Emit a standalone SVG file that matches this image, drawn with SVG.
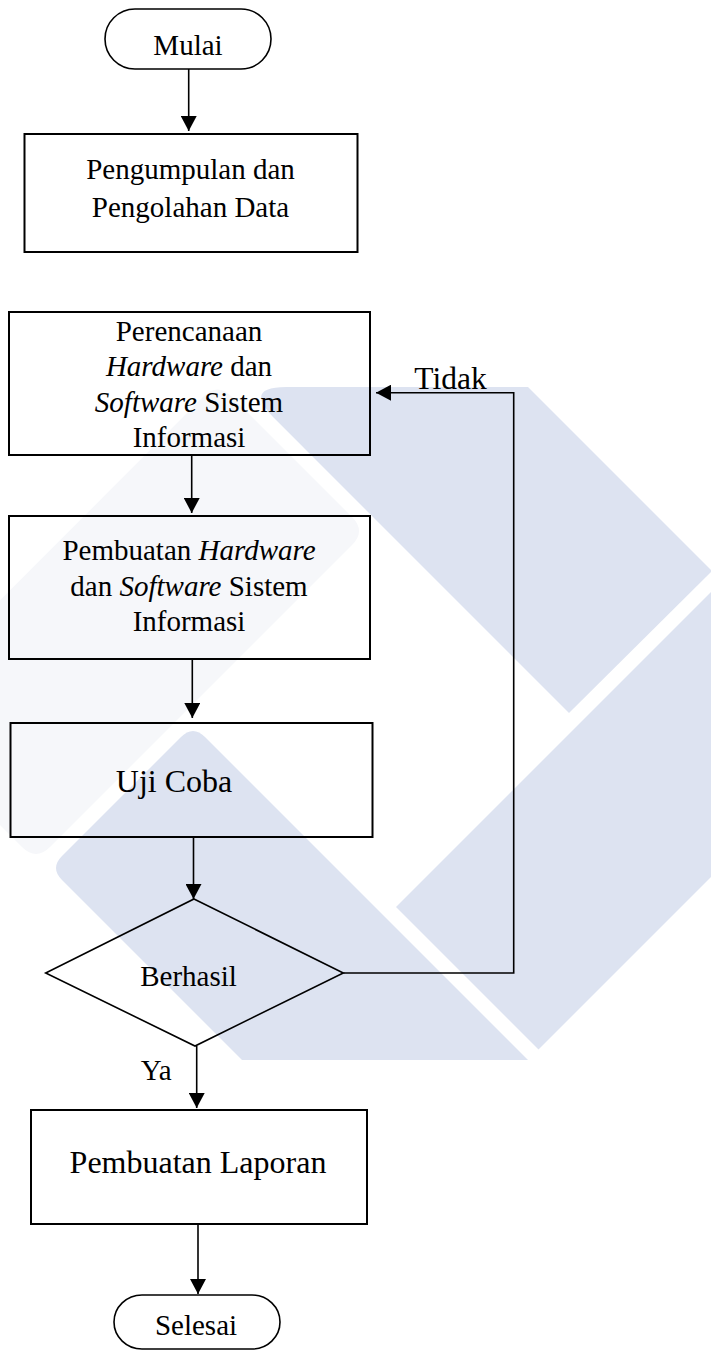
<svg xmlns="http://www.w3.org/2000/svg" width="711" height="1350" viewBox="0 0 711 1350">
<style>
.wm{fill:#dde3f1}
.wf{fill:#f6f7fa}
.box{fill:none;stroke:#000;stroke-width:2}
.term{fill:none;stroke:#000;stroke-width:1.6}
.dia{fill:none;stroke:#000;stroke-width:1.6}
.edge{fill:none;stroke:#000;stroke-width:1.6}
text{font-family:"Liberation Serif","Times New Roman",serif;font-size:29px;fill:#000;text-anchor:middle}
.big{font-size:32px}
.lbl{font-size:31.5px}
.it{font-style:italic}
</style>
<defs>
<marker id="ah" markerUnits="userSpaceOnUse" markerWidth="16" markerHeight="16" refX="15" refY="8" orient="auto">
<path d="M0,0 L15,8 L0,16 Z" fill="#000"/>
</marker>
</defs>
<rect width="711" height="1350" fill="#fff"/>
<g id="watermark">
<path class="wf" d="M231.5,396.5 L352,517 Q366,531 352,545 L50,847 Q36,861 22,847 L-112,712.5 L203.5,396.5 Q217.5,382.5 231.5,396.5 Z"/>
<path class="wm" d="M286.5,387 L528,387 L712,571 L569,713 L273.8,417.8 Q243,387 286.5,387 Z"/>
<path class="wm" d="M396,907 L538.5,1049.5 L820,768 L820,483 Z"/>
<path class="wm" d="M205,737 L528,1060 L242,1060 L62,880 Q50,868 62,856 L181,737 Q193,725 205,737 Z"/>
</g>
<g id="connectors">
<path class="edge" d="M188.7,69 V131" marker-end="url(#ah)"/>
<path class="edge" d="M191.7,455 V513" marker-end="url(#ah)"/>
<path class="edge" d="M192.3,659 V718" marker-end="url(#ah)"/>
<path class="edge" d="M193.5,837 V899" marker-end="url(#ah)"/>
<path class="edge" d="M343.3,973 H513.7 V392.7 H376" marker-end="url(#ah)"/>
<path class="edge" d="M196.7,1046 V1108" marker-end="url(#ah)"/>
<path class="edge" d="M198,1224 V1294" marker-end="url(#ah)"/>
<text class="lbl" x="450.5" y="389">Tidak</text>
<text x="156.3" y="1080">Ya</text>
</g>
<g id="start">
<rect class="term" x="105" y="9" width="166" height="60" rx="30" ry="30"/>
<text x="188" y="55">Mulai</text>
</g>
<g id="data">
<rect class="box" x="24.5" y="134" width="333" height="118"/>
<text x="190.5" y="179">Pengumpulan dan</text>
<text x="190.5" y="217">Pengolahan Data</text>
</g>
<g id="plan">
<rect class="box" x="9" y="312" width="361" height="143"/>
<text x="189" y="340.5">Perencanaan</text>
<text x="189" y="376"><tspan class="it">Hardware</tspan> dan</text>
<text x="189" y="411.5"><tspan class="it">Software</tspan> Sistem</text>
<text x="189" y="447">Informasi</text>
</g>
<g id="build">
<rect class="box" x="9" y="516" width="361" height="143"/>
<text x="189" y="560">Pembuatan <tspan class="it">Hardware</tspan></text>
<text x="189" y="596">dan <tspan class="it">Software</tspan> Sistem</text>
<text x="189" y="631">Informasi</text>
</g>
<g id="test">
<rect class="box" x="10.5" y="723" width="362" height="114"/>
<text class="big" x="174" y="792">Uji Coba</text>
</g>
<g id="decision">
<polygon class="dia" points="194,899 343.3,973 195,1046 45.7,973"/>
<text x="188.5" y="986">Berhasil</text>
</g>
<g id="report">
<rect class="box" x="31" y="1110" width="336" height="114"/>
<text class="big" x="198" y="1173">Pembuatan Laporan</text>
</g>
<g id="end">
<rect class="term" x="114" y="1295" width="166" height="54" rx="28" ry="27"/>
<text x="196" y="1335">Selesai</text>
</g>
</svg>
